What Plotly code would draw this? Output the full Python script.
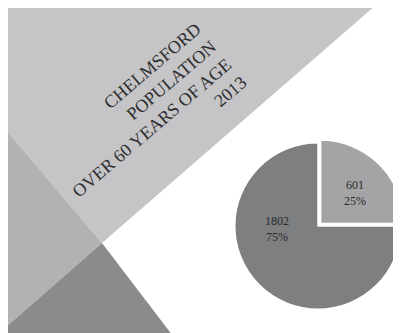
import plotly.graph_objects as go

W, H = 401, 333
OFF = 8  # page offset of the figure inside the browser window

# Data
labels = ["601", "1802"]
values = [601, 1802]
slice_colors = ["#a4a4a6", "#7e7f81"]
title_lines = ["CHELMSFORD", "POPULATION", "OVER 60 YEARS OF AGE", "2013"]

def px(x, y):
    # reference window pixel -> paper fraction
    return (x - OFF) / W, 1 - (y - OFF) / H

def path(points):
    pts = [px(x, y) for x, y in points]
    return "M " + " L ".join(f"{a:.5f},{b:.5f}" for a, b in pts) + " Z"

bg_shapes = [
    ([(6, 5), (376, 5), (102, 243), (6, 130)], "#c5c5c7"),
    ([(6, 130), (102, 243), (6, 327)], "#b2b2b4"),
    ([(102, 243), (176, 340), (6, 340), (6, 327)], "#8b8b8d"),
]

shapes = [dict(type="path", path=path(p), xref="paper", yref="paper",
               fillcolor=c, line=dict(width=0), layer="below")
          for p, c in bg_shapes]

cx, cy, half = 318, 226, 87
dx0, dy1 = px(cx - half, cy - half)
dx1, dy0 = px(cx + half, cy + half)

fig = go.Figure(go.Pie(
    labels=labels, values=values, sort=False, direction="clockwise",
    rotation=0, pull=[0.045, 0],
    marker=dict(colors=slice_colors, line=dict(color="white", width=1.5)),
    textinfo="none",
    domain=dict(x=[dx0, dx1], y=[dy0, dy1]),
    showlegend=False, hoverinfo="skip",
))

total = sum(values)
label_pos = [(355, 193), (277, 229)]
for v, (lx, ly) in zip(values, label_pos):
    fx, fy = px(lx, ly)
    fig.add_annotation(
        x=fx, y=fy, xref="paper", yref="paper", showarrow=False,
        xanchor="center", yanchor="middle",
        text=f"{v}<br>{round(100 * v / total)}%",
        font=dict(family="Liberation Serif", size=12, color="#2a2a2a"),
    )

ax, ay = px(144, 119)
fig.add_annotation(
    x=ax, y=ay, xref="paper", yref="paper", xanchor="center", yanchor="middle",
    text="<br>".join(title_lines), showarrow=False, align="right",
    textangle=-40.5,
    font=dict(family="Liberation Serif", size=18, color="#2e2e2e"),
)

fig.update_layout(
    width=W, height=H, margin=dict(l=0, r=0, t=0, b=0),
    paper_bgcolor="white", plot_bgcolor="white", shapes=shapes,
)
fig.write_html("out.html")
